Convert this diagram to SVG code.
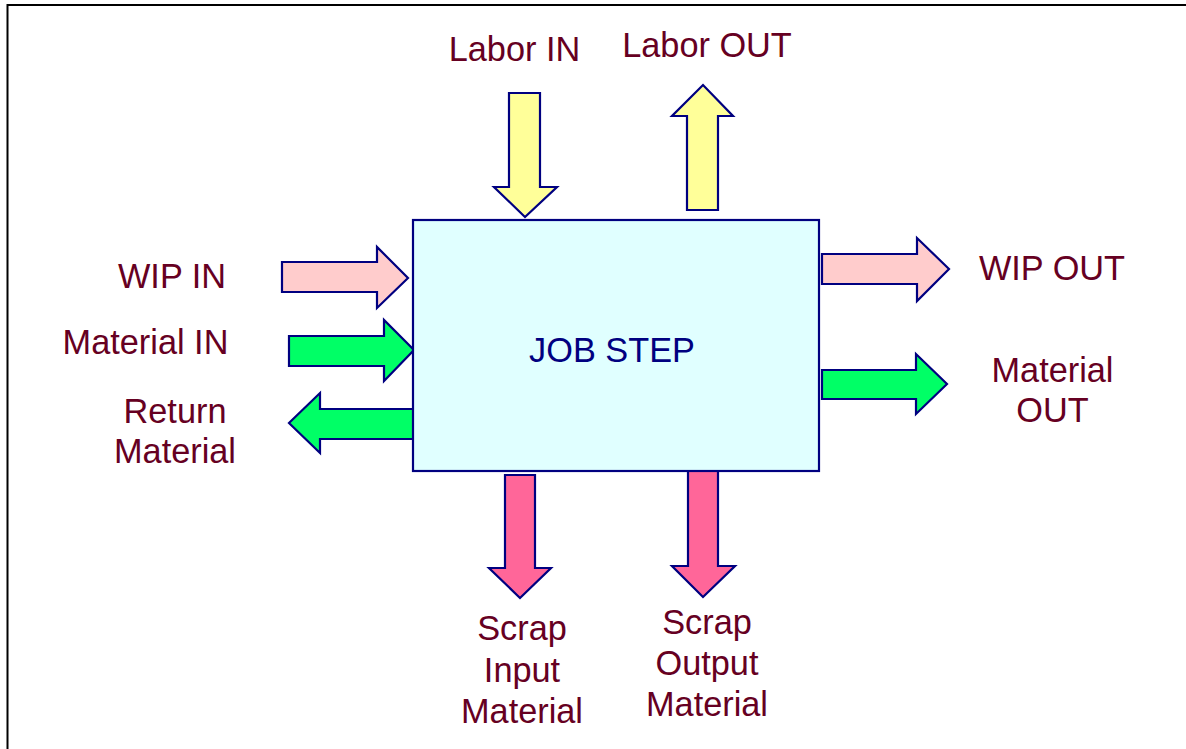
<svg xmlns="http://www.w3.org/2000/svg" width="1186" height="749" viewBox="0 0 1186 749">
<style>
.lbl{font-family:"Liberation Sans",Arial,sans-serif;font-size:34.3px;fill:#660022;text-anchor:middle}
.arr{stroke:#000080;stroke-width:2.2;stroke-linejoin:miter}
.wip{fill:#FFCCCC}.mat{fill:#00FF66}.lab{fill:#FFFF99}.scr{fill:#FF6699}
</style>
<rect width="1186" height="749" fill="#ffffff"/>
<path d="M7.5,749 V5 H1186" fill="none" stroke="#000000" stroke-width="2"/>
<g id="connectors">
<polygon class="arr lab" points="509,93 540,93 540,187 557,187 525,217 494,187 509,187"/>
<polygon class="arr lab" points="687,210 718,210 718,116 733,116 703,85 672,116 687,116"/>
<polygon class="arr wip" points="282,262 377,262 377,247 408,278 377,308 377,292 282,292"/>
<polygon class="arr mat" points="289,336 384,336 384,320 414,350 384,381 384,366 289,366"/>
<polygon class="arr mat" points="415,409 320,409 320,393 289,423 320,453 320,439 415,439"/>
<polygon class="arr wip" points="822,254 917,254 917,238 949,269 917,301 917,284 822,284"/>
<polygon class="arr mat" points="822,370 916,370 916,354 947,384 916,414 916,399 822,399"/>
<polygon class="arr scr" points="505,475 535,475 535,568 551,568 520,598 489,568 505,568"/>
<polygon class="arr scr" points="688,471 718,471 718,566 735,566 703,597 672,566 688,566"/>
</g>
<g id="job-step">
<rect x="413" y="220" width="406" height="251" fill="#E0FFFF" stroke="#000080" stroke-width="2.2"/>
<text x="612" y="362" style="font-family:'Liberation Sans',Arial,sans-serif;font-size:34.3px;fill:#000080;text-anchor:middle">JOB STEP</text>
</g>
<g id="labor-in"><text class="lbl" x="514.5" y="61">Labor IN</text></g>
<g id="labor-out"><text class="lbl" x="707" y="57">Labor OUT</text></g>
<g id="wip-in"><text class="lbl" x="172" y="288">WIP IN</text></g>
<g id="material-in"><text class="lbl" x="145.5" y="354">Material IN</text></g>
<g id="return-material"><text class="lbl" x="175" y="423">Return</text><text class="lbl" x="175" y="463">Material</text></g>
<g id="wip-out"><text class="lbl" x="1052" y="280">WIP OUT</text></g>
<g id="material-out"><text class="lbl" x="1052.5" y="382">Material</text><text class="lbl" x="1052.5" y="422">OUT</text></g>
<g id="scrap-input"><text class="lbl" x="522" y="640">Scrap</text><text class="lbl" x="522" y="682">Input</text><text class="lbl" x="522" y="723">Material</text></g>
<g id="scrap-output"><text class="lbl" x="707" y="634">Scrap</text><text class="lbl" x="707" y="675">Output</text><text class="lbl" x="707" y="716">Material</text></g>
</svg>
